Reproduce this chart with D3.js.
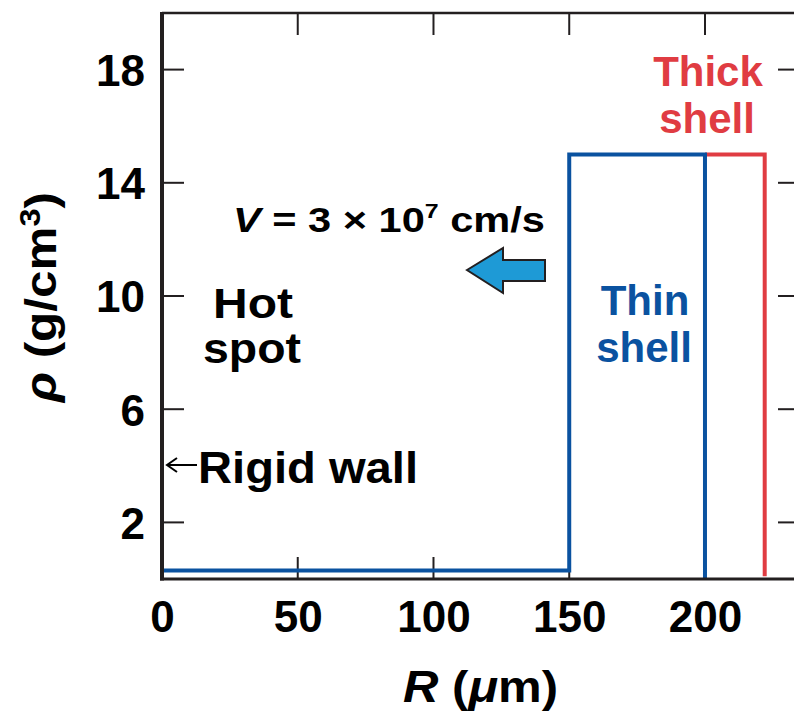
<!DOCTYPE html>
<html>
<head>
<meta charset="utf-8">
<script src="https://cdn.jsdelivr.net/npm/d3@7"></script>
<style>
  html, body { margin: 0; padding: 0; background: #fff; }
  svg text { font-family: "Liberation Sans", Arial, Helvetica, sans-serif; font-weight: bold; }
</style>
</head>
<body>
<svg id="chart" width="794" height="712"></svg>
<script>
// Density profiles rho(R): hot spot + shell, for thin and thick shells
const thinShellR   = [0, 150, 150, 200, 200];
const thinShellRho = [0.3, 0.3, 15, 15, 0];
const thickShellR   = [200, 222, 222];
const thickShellRho = [15, 15, 0.1];

const xTicks = [0, 50, 100, 150, 200];
const yTicks = [2, 6, 10, 14, 18];
const xDomain = [0, 235];
const yDomain = [0, 20];

const blue = "#0a52a0";
const red = "#e03c42";
const ink = "#231f20";

const svg = d3.select("#chart");
const plotL = 162, plotR = 800, plotT = 13, plotB = 579;

const x = d3.scaleLinear().domain(xDomain).range([plotL, plotR]);
const y = d3.scaleLinear().domain(yDomain).range([plotB, plotT]);

// Frame lines
svg.append("line").attr("x1", plotL).attr("x2", plotR).attr("y1", plotT).attr("y2", plotT)
  .attr("stroke", ink).attr("stroke-width", 2.5);
svg.append("line").attr("x1", plotR).attr("x2", plotR).attr("y1", plotT).attr("y2", plotB)
  .attr("stroke", ink).attr("stroke-width", 2.5);

// Inward ticks on all four sides
const tickLen = 22;
const gTicks = svg.append("g").attr("stroke", ink).attr("stroke-width", 2);
xTicks.filter(d => d > 0).forEach(d => {
  gTicks.append("line").attr("x1", x(d)).attr("x2", x(d)).attr("y1", plotB).attr("y2", plotB - tickLen);
  gTicks.append("line").attr("x1", x(d)).attr("x2", x(d)).attr("y1", plotT).attr("y2", plotT + tickLen);
});
yTicks.forEach(d => {
  gTicks.append("line").attr("x1", plotL).attr("x2", plotL + tickLen).attr("y1", y(d)).attr("y2", y(d));
  gTicks.append("line").attr("x1", plotR).attr("x2", plotR - tickLen).attr("y1", y(d)).attr("y2", y(d));
});

// Bottom axis labels
const xAxis = d3.axisBottom(x).tickValues(xTicks).tickSize(0).tickPadding(0);
const gx = svg.append("g").attr("transform", `translate(0,${plotB})`).call(xAxis);
gx.select(".domain").remove();
gx.selectAll("text").attr("font-size", 44).attr("fill", "#000").attr("dy", null).attr("y", 53)
  .style("font-family", '"Liberation Sans", Arial, sans-serif').style("font-weight", "bold");

// Left axis labels
const yAxis = d3.axisLeft(y).tickValues(yTicks).tickSize(0).tickPadding(0);
const gy = svg.append("g").attr("transform", `translate(${plotL},0)`).call(yAxis);
gy.select(".domain").remove();
gy.selectAll("text").attr("font-size", 44).attr("fill", "#000").attr("x", -17).attr("dy", "0.36em")
  .style("font-family", '"Liberation Sans", Arial, sans-serif').style("font-weight", "bold");

// Profiles
const line = d3.line().x(d => x(d[0])).y(d => y(d[1]));
svg.append("path").datum(d3.zip(thickShellR, thickShellRho)).attr("d", line)
  .attr("fill", "none").attr("stroke", red).attr("stroke-width", 4).attr("stroke-linejoin", "miter");
svg.append("path").datum(d3.zip(thinShellR, thinShellRho)).attr("d", line)
  .attr("fill", "none").attr("stroke", blue).attr("stroke-width", 4).attr("stroke-linejoin", "miter");

// Axis lines (left and bottom, drawn over the profile ends)
svg.append("line").attr("x1", plotL).attr("x2", plotL).attr("y1", plotT - 1).attr("y2", plotB + 1.5)
  .attr("stroke", ink).attr("stroke-width", 4);
svg.append("line").attr("x1", plotL - 2).attr("x2", plotR).attr("y1", plotB).attr("y2", plotB)
  .attr("stroke", ink).attr("stroke-width", 3);

// Axis titles
const xt = svg.append("text").attr("x", 403).attr("y", 702)
  .attr("font-size", 45).attr("fill", "#000")
  .attr("textLength", 155).attr("lengthAdjust", "spacingAndGlyphs");
xt.append("tspan").attr("font-style", "italic").text("R");
xt.append("tspan").text(" (");
xt.append("tspan").attr("font-style", "italic").text("\u03bc");
xt.append("tspan").text("m)");

const yt = svg.append("text").attr("transform", "translate(56,402) rotate(-90)")
  .attr("font-size", 44).attr("fill", "#000")
  .attr("textLength", 210).attr("lengthAdjust", "spacingAndGlyphs");
yt.append("tspan").attr("font-style", "italic").text("\u03c1");
yt.append("tspan").text(" (g/cm");
yt.append("tspan").attr("font-size", 29).attr("dy", -16).text("3");
yt.append("tspan").attr("dy", 16).text(")");

// Annotations: one text element per line so each can be fitted to its width
function label(s, cx, yb, size, color, width) {
  const t = svg.append("text").attr("x", cx).attr("y", yb).attr("text-anchor", "middle")
    .attr("font-size", size).attr("fill", color).text(s);
  if (width) {
    t.attr("x", cx - width / 2).attr("text-anchor", "start")
      .attr("textLength", width).attr("lengthAdjust", "spacingAndGlyphs");
  }
  return t;
}
label("Thick", 708, 86, 42, red);
label("shell", 707, 133, 42, red);
label("Thin", 645, 315, 42, blue);
label("shell", 644, 362, 42, blue);
label("Hot", 253, 318, 43, "#000", 80);
label("spot", 252, 363, 43, "#000", 98);

// Velocity label
const vt = svg.append("text").attr("x", 233).attr("y", 232).attr("font-size", 35).attr("fill", "#000")
  .attr("textLength", 312).attr("lengthAdjust", "spacingAndGlyphs");
vt.append("tspan").attr("font-style", "italic").text("V");
vt.append("tspan").text(" = 3 \u00d7 10");
vt.append("tspan").attr("font-size", 21).attr("dy", -14).text("7");
vt.append("tspan").attr("dy", 14).text(" cm/s");

// Implosion direction arrow
const arrowPts = [[467, 270], [503, 248], [503, 260], [545, 260], [545, 281], [503, 281], [503, 293]];
svg.append("polygon").attr("points", arrowPts.map(p => p.join(",")).join(" "))
  .attr("fill", "#1e9ad6").attr("stroke", ink).attr("stroke-width", 2).attr("stroke-linejoin", "miter");

// Rigid wall label with small arrow
svg.append("text").attr("x", 198).attr("y", 483).attr("font-size", 45).attr("fill", "#000")
  .attr("textLength", 220).attr("lengthAdjust", "spacingAndGlyphs").text("Rigid wall");
svg.append("line").attr("x1", 197).attr("x2", 168).attr("y1", 465).attr("y2", 465)
  .attr("stroke", "#000").attr("stroke-width", 2);
svg.append("path").attr("d", "M177,458 L167,465 L177,472").attr("fill", "none")
  .attr("stroke", "#000").attr("stroke-width", 2);
</script>
</body>
</html>
